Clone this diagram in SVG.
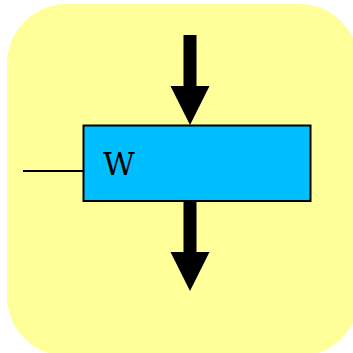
<svg xmlns="http://www.w3.org/2000/svg" width="353" height="353" viewBox="0 0 353 353">
<style>
.arrow{fill:#000}
.box{fill:#00bfff;stroke:#000;stroke-width:2}
.lbl{font-family:"DejaVu Serif",serif;font-size:31px;fill:#000}
</style>
<rect x="7" y="4" width="352" height="352" rx="60" ry="60" fill="#ffff99"/>
<g id="connectors">
<line x1="23" y1="171" x2="84" y2="171" stroke="#000" stroke-width="2"/>
<path class="arrow" d="M183.5,35 H196.5 V86 H209.5 L190,125 L170.5,86 H183.5 Z"/>
<path class="arrow" d="M183.5,201 H196.5 V252 H209.5 L190,291 L170.5,252 H183.5 Z"/>
</g>
<g id="node-w">
<rect class="box" x="83.5" y="125.5" width="227" height="75.5"/>
<text class="lbl" x="103" y="175">W</text>
</g>
</svg>
